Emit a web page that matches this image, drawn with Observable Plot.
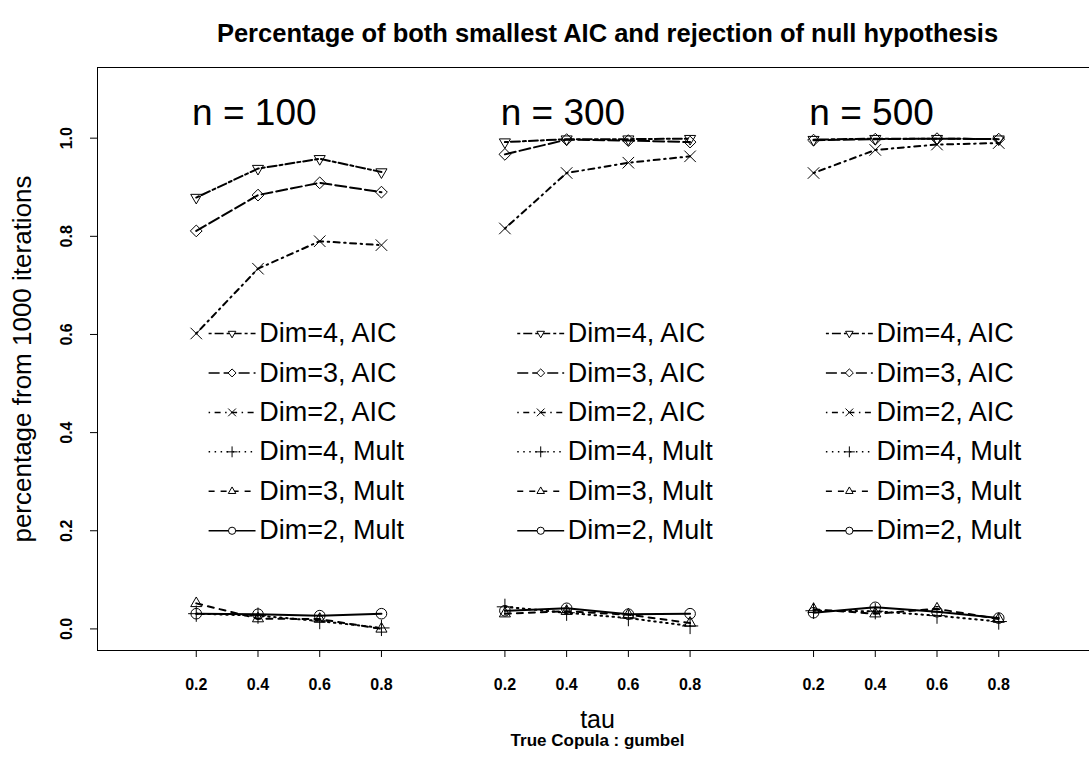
<!DOCTYPE html>
<html>
<head>
<meta charset="utf-8">
<script src="https://cdn.jsdelivr.net/npm/d3@7"></script>
<script src="https://cdn.jsdelivr.net/npm/@observablehq/plot@0.6"></script>
<style>
  html, body { margin: 0; padding: 0; background: #fff; }
  svg { font-family: "Liberation Sans", Arial, Helvetica, sans-serif; }
</style>
</head>
<body>
<div id="chart"></div>
<script>
// ---- data ----
const taus = [0.2, 0.4, 0.6, 0.8];
const sampleSizes = [100, 300, 500];
const seriesNames = ["Dim=4, AIC", "Dim=3, AIC", "Dim=2, AIC", "Dim=4, Mult", "Dim=3, Mult", "Dim=2, Mult"];
// values per panel (n=100, n=300, n=500), each over tau = 0.2..0.8
const dim4AIC  = [0.879, 0.938, 0.958, 0.931,  0.992, 0.998, 0.998, 0.999,  0.997, 0.999, 0.999, 0.998];
const dim3AIC  = [0.811, 0.884, 0.909, 0.890,  0.967, 0.997, 0.995, 0.992,  0.996, 0.998, 0.999, 0.998];
const dim2AIC  = [0.602, 0.734, 0.790, 0.782,  0.816, 0.929, 0.950, 0.963,  0.929, 0.976, 0.987, 0.990];
const dim4Mult = [0.031, 0.027, 0.016, 0.002,  0.045, 0.033, 0.022, 0.006,  0.037, 0.036, 0.027, 0.015];
const dim3Mult = [0.052, 0.021, 0.020, 0.000,  0.031, 0.036, 0.029, 0.012,  0.040, 0.031, 0.041, 0.020];
const dim2Mult = [0.031, 0.030, 0.027, 0.031,  0.037, 0.042, 0.030, 0.031,  0.033, 0.044, 0.035, 0.022];
const yTicks = [0, 0.2, 0.4, 0.6, 0.8, 1.0];

// ---- styles ----
const styles = [
  {values: dim4AIC,  symbol: "triangle2", rotate: 180, dash: "3,3,9,3"},
  {values: dim3AIC,  symbol: "diamond2",  rotate: 0,   dash: "11,4"},
  {values: dim2AIC,  symbol: "times",     rotate: 0,   dash: "1.5,4.5,6,4.5"},
  {values: dim4Mult, symbol: "plus",      rotate: 0,   dash: "1.5,4.5"},
  {values: dim3Mult, symbol: "triangle2", rotate: 0,   dash: "6,6"},
  {values: dim2Mult, symbol: "circle",    rotate: 0,   dash: null}
];

// x position: panel offset (5 units per panel) + tau index
const xpos = (p, j) => p * 5 + j + 1;
const xTicks = sampleSizes.flatMap((_, p) => taus.map((_, j) => xpos(p, j)));
const tickLabel = d => taus[(Math.round(d) - 1) % 5].toFixed(1);

const marks = [];
marks.push(Plot.frame({stroke: "black", strokeWidth: 1}));

styles.forEach((s, k) => {
  const rows = [];
  sampleSizes.forEach((n, p) => taus.forEach((t, j) => rows.push({x: xpos(p, j), y: s.values[p * 4 + j], panel: p})));
  marks.push(Plot.line(rows, {x: "x", y: "y", z: "panel", stroke: "black", strokeWidth: 2,
    strokeDasharray: s.dash || undefined}));
  marks.push(Plot.dot(rows, {x: "x", y: "y", symbol: () => s.symbol, r: 5.3, rotate: s.rotate,
    stroke: "black", fill: "none", strokeWidth: 1}));
  // legend in each panel
  const legRows = sampleSizes.map((n, p) => ({p, y: 0.602 - k * 0.0804}));
  marks.push(Plot.link(legRows, {x1: d => d.p * 5 + 1.2, x2: d => d.p * 5 + 1.96, y1: "y", y2: "y",
    stroke: "black", strokeWidth: 1.5, strokeDasharray: s.dash || undefined}));
  marks.push(Plot.dot(legRows, {x: d => d.p * 5 + 1.58, y: "y", symbol: () => s.symbol, r: 3.6, rotate: s.rotate,
    stroke: "black", fill: "white", strokeWidth: 1}));
  marks.push(Plot.text(legRows, {x: d => d.p * 5 + 2.02, y: "y", text: () => seriesNames[k],
    textAnchor: "start", fontSize: 27, fill: "black"}));
});

// panel labels
marks.push(Plot.text(sampleSizes, {x: (d, i) => i * 5 + 1.94, y: () => 1.051, text: d => `n = ${d}`,
  fontSize: 37, fill: "black"}));

// axes
marks.push(Plot.axisX({ticks: xTicks, tickFormat: tickLabel, tickSize: 7, tickPadding: 21,
  fontSize: 16, fontWeight: "bold", label: null}));
marks.push(Plot.axisY({ticks: yTicks, tickFormat: d => d.toFixed(1), tickSize: 7, tickPadding: 19,
  tickRotate: -90, fontSize: 16, fontWeight: "bold", label: null}));

// titles
marks.push(Plot.text(["Percentage of both smallest AIC and rejection of null hypothesis"],
  {frameAnchor: "top", lineAnchor: "middle", dy: -34, dx: 10, fontSize: 25.5, fontWeight: "bold", fill: "black"}));
marks.push(Plot.text(["tau"], {frameAnchor: "bottom", lineAnchor: "middle", dy: 69, fontSize: 25, fill: "black"}));
marks.push(Plot.text(["True Copula : gumbel"], {frameAnchor: "bottom", lineAnchor: "middle", dy: 90, fontSize: 17, fontWeight: "bold", fill: "black"}));
marks.push(Plot.text(["percentage from 1000 iterations"], {frameAnchor: "left", dx: -75, rotate: -90,
  textAnchor: "middle", fontSize: 26, fill: "black"}));

const chart = Plot.plot({
  width: 1089,
  height: 758,
  marginLeft: 97,
  marginRight: -8,
  marginTop: 67,
  marginBottom: 108,
  style: {fontFamily: "Liberation Sans, Arial, sans-serif", background: "white", color: "black"},
  x: {domain: [-0.6, 15.6]},
  y: {domain: [-0.044, 1.144]},
  marks
});
document.getElementById("chart").appendChild(chart);
</script>
</body>
</html>
